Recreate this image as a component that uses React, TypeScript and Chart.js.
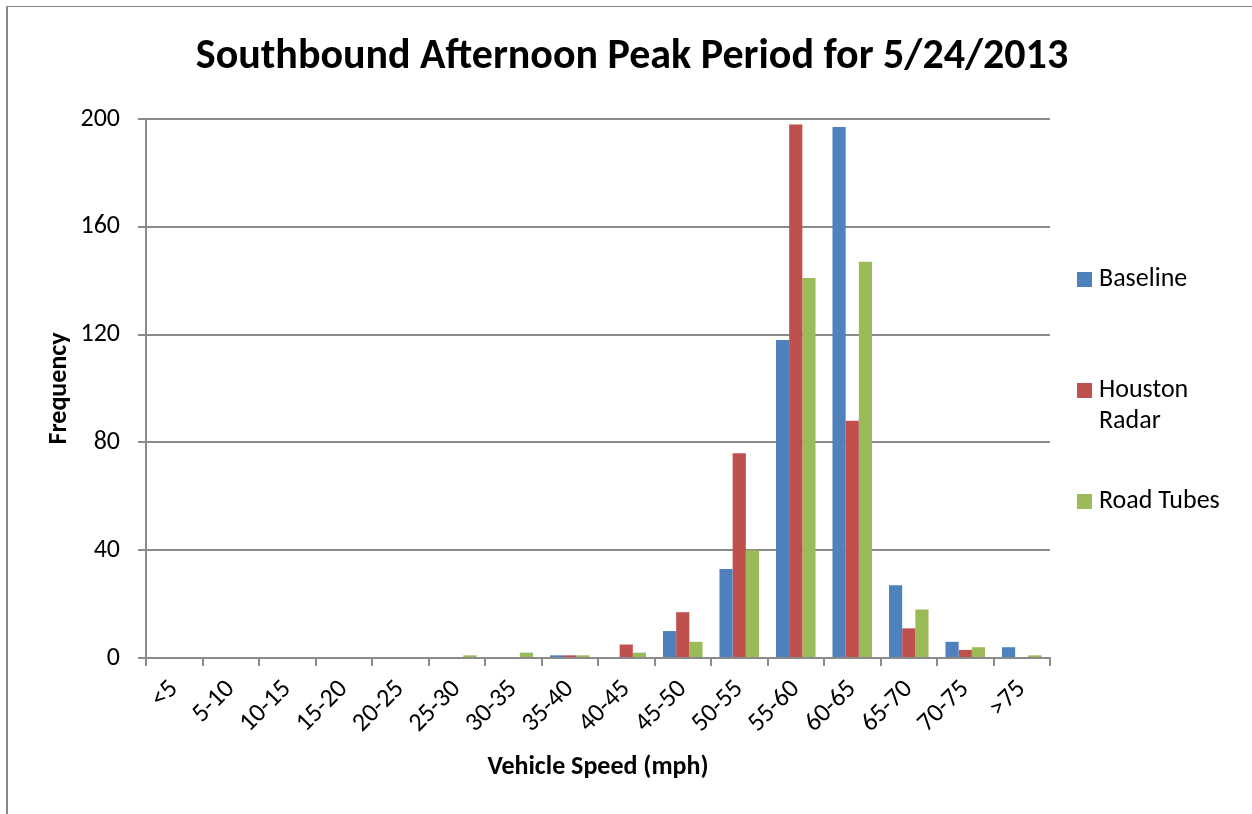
import React, { useEffect, useRef } from "react";
import { Chart, registerables } from "chart.js";

Chart.register(...registerables);

const categories = ["<5", "5-10", "10-15", "15-20", "20-25", "25-30", "30-35", "35-40", "40-45", "45-50", "50-55", "55-60", "60-65", "65-70", "70-75", ">75"];
const baseline = [0, 0, 0, 0, 0, 0, 0, 1, 0, 10, 33, 118, 197, 27, 6, 4];
const houstonRadar = [0, 0, 0, 0, 0, 0, 0, 1, 5, 17, 76, 198, 88, 11, 3, 0];
const roadTubes = [0, 0, 0, 0, 0, 1, 2, 1, 2, 6, 40, 141, 147, 18, 4, 1];
const seriesNames = ["Baseline", "Houston Radar", "Road Tubes"];
const legendLines = [["Baseline"], ["Houston", "Radar"], ["Road Tubes"]];
const seriesColors = ["#4F81BD", "#C0504D", "#9BBB59"];
const yMin = 0;
const yMax = 200;
const yStep = 40;
const titleText = "Southbound Afternoon Peak Period for 5/24/2013";
const xTitle = "Vehicle Speed (mph)";
const yTitle = "Frequency";

const FONT = "Carlito, Lato, 'Open Sans', sans-serif";
const GRID = "#8a8a8a";

const overlayPlugin = {
  id: "overlay",
  afterDraw(chart: any) {
    const ctx = chart.ctx;
    const area = chart.chartArea;
    ctx.save();
    ctx.fillStyle = "#000";
    // title
    ctx.font = `bold 42px ${FONT}`;
    ctx.textAlign = "center";
    ctx.textBaseline = "middle";
    ctx.fillText(titleText, 632, 57);
    // x title
    ctx.font = `bold 26px ${FONT}`;
    ctx.fillText(xTitle, (area.left + area.right) / 2, 767);
    // y title
    ctx.save();
    ctx.translate(59, (area.top + area.bottom) / 2);
    ctx.rotate(-Math.PI / 2);
    ctx.fillText(yTitle, 0, 0);
    ctx.restore();
    // legend
    const ys = [279, 390, 501];
    ctx.font = `26px ${FONT}`;
    ctx.textAlign = "left";
    chart.data.datasets.forEach((ds: any, i: number) => {
      ctx.fillStyle = ds.backgroundColor;
      ctx.fillRect(1077, ys[i] - 7, 15, 15);
      ctx.fillStyle = "#000";
      legendLines[i].forEach((line, j) => {
        ctx.fillText(line, 1099, ys[i] + j * 31);
      });
    });
    ctx.restore();
  },
};

export default function App() {
  const ref = useRef<HTMLCanvasElement | null>(null);
  useEffect(() => {
    if (!ref.current) return;
    const chart = new Chart(ref.current, {
      type: "bar",
      data: {
        labels: categories,
        datasets: [baseline, houstonRadar, roadTubes].map((d, i) => ({
          label: seriesNames[i],
          data: d,
          backgroundColor: seriesColors[i],
          borderWidth: 0,
          categoryPercentage: 0.7,
          barPercentage: 1,
        })),
      },
      options: {
        animation: false,
        responsive: false,
        maintainAspectRatio: false,
        layout: { padding: { top: 119, right: 202, left: 0, bottom: 0 } },
        plugins: {
          legend: { display: false },
          title: { display: false },
          tooltip: { enabled: false },
        },
        scales: {
          x: {
            offset: true,
            grid: {
              offset: true,
              drawOnChartArea: false,
              drawTicks: true,
              tickLength: 8,
              color: GRID,
              lineWidth: 2,
            },
            border: { display: true, color: GRID, width: 2 },
            ticks: {
              color: "#000",
              font: { family: FONT, size: 26 },
              minRotation: 45,
              maxRotation: 45,
              autoSkip: false,
              padding: 8,
            },
            afterFit(scale: any) {
              scale.height = 156;
            },
          },
          y: {
            min: yMin,
            max: yMax,
            grid: { color: GRID, lineWidth: 2, tickLength: 8, drawTicks: true },
            border: { display: true, color: GRID, width: 2 },
            ticks: {
              stepSize: yStep,
              color: "#000",
              font: { family: FONT, size: 26 },
              padding: 18,
            },
            afterFit(scale: any) {
              scale.width = 146;
            },
          },
        },
      },
      plugins: [overlayPlugin],
    });
    return () => chart.destroy();
  }, []);
  return (
    <div style={{ position: "fixed", left: 0, top: 0, width: 1252, height: 814, background: "#fff" }}>
      <div
        style={{
          position: "absolute",
          left: 6,
          top: 6,
          width: 1246,
          height: 808,
          borderLeft: "2px solid #888",
          borderTop: "1.5px solid #888",
          boxSizing: "border-box",
        }}
      />
      <canvas ref={ref} width={1252} height={814} style={{ position: "absolute", left: 0, top: 0, width: 1252, height: 814 }} />
    </div>
  );
}
